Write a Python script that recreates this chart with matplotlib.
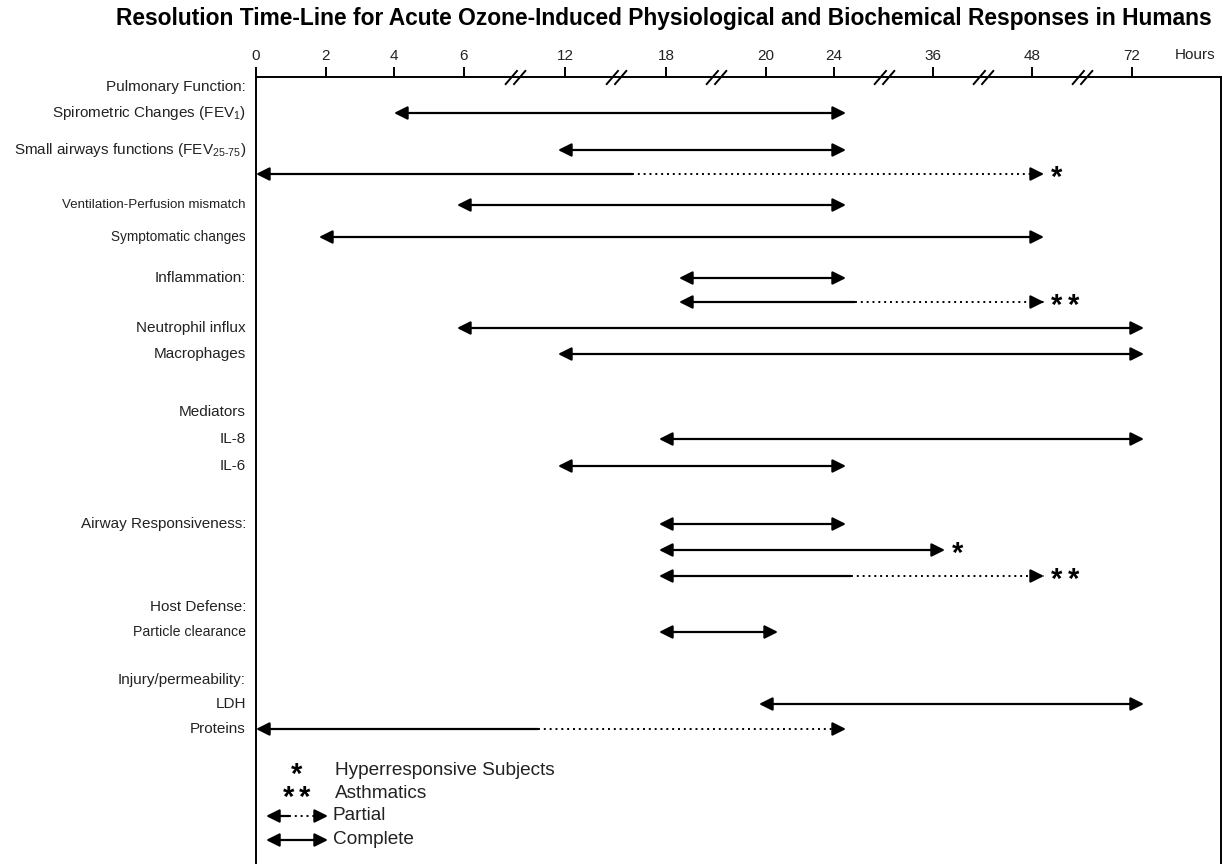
"""
Resolution time-line for acute ozone-induced responses (broken hour axis)
"""

import numpy as np
import matplotlib.pyplot as plt
from matplotlib.path import Path
from matplotlib import transforms

plt.rcParams['font.family'] = ['Liberation Sans', 'DejaVu Sans']
plt.rcParams['mathtext.fontset'] = 'custom'
plt.rcParams['mathtext.rm'] = 'Liberation Sans'

# hour axis
tick_hours = [0, 2, 4, 6, 12, 18, 20, 24, 36, 48, 72]
break_hours = [9, 15, 19, 30, 42, 60]

# row captions
row_labels = ['Pulmonary Function:', 'Spirometric Changes (FEV$_1$)',
              'Small airways functions (FEV$_{25\\text{-}75}$)',
              'Ventilation-Perfusion mismatch', 'Symptomatic changes',
              'Inflammation:', 'Neutrophil influx', 'Macrophages',
              'Mediators', 'IL-8', 'IL-6', 'Airway Responsiveness:',
              'Host Defense:', 'Particle clearance', 'Injury/permeability:',
              'LDH', 'Proteins']

# resolution spans (hours): start, end of complete part, end of span
span_start = [4, 12, 0, 6, 2, 18.4, 18.4, 6, 12, 18, 12, 18, 18, 18, 18, 20, 0]
span_solid_end = [24, 24, 16, 24, 48, 24, 26.5, 72, 72, 72, 24, 24, 36, 26, 20, 72, 10.4]
span_end = [24, 24, 48, 24, 48, 24, 48, 72, 72, 72, 24, 24, 36, 48, 20, 72, 24]
span_note = ['', '', '*', '', '', '', '**', '', '', '', '', '', '*', '**', '', '', '']

legend_notes = ['*', '**']
legend_texts = ['Hyperresponsive Subjects', 'Asthmatics', 'Partial', 'Complete']

# layout (pixel rows, top = 0)
tick_pos = [256, 326, 394, 464, 565, 666, 766, 834, 933, 1032, 1132]
label_y = [87, 113, 150, 205, 237, 278, 328, 354, 412, 439, 466, 524, 607, 632, 680, 704, 729]
label_size = [11, 11, 11, 9.6, 9.8, 11, 11, 11, 11, 11, 11, 11, 11, 10.2, 11, 11, 11]
span_y = [113, 150, 174, 205, 237, 278, 302, 328, 354, 439, 466, 524, 550, 576, 632, 704, 729]
legend_y = [771, 794, 816, 840]

knot_h = np.array([-24] + tick_hours + [96], dtype=float)
knot_p = np.array([256 - 24 * 35] + tick_pos + [1232], dtype=float)


def forward(h):
    return np.interp(h, knot_h, knot_p)


def inverse(p):
    return np.interp(p, knot_p, knot_h)


HEAD = '-|>,head_length=0.8,head_width=0.4'
HEAD2 = '<|-|>,head_length=0.8,head_width=0.4'
HEADL = '<|-,head_length=0.8,head_width=0.4'
LW = 1.6
DOTS = (0, (1, 2))


def draw_span(ax, x0, x1, x2, y, base, pad_l=0, pad_r=0):
    """arrow from x0 to x2, solid up to x1, dotted after"""
    left = transforms.offset_copy(base, fig=ax.figure, x=-pad_l, units='dots')
    right = transforms.offset_copy(base, fig=ax.figure, x=pad_r, units='dots')
    kw = dict(arrowstyle=HEAD2, lw=LW, color='black', shrinkA=0, shrinkB=0,
              mutation_scale=10)
    if x1 >= x2:
        ax.annotate('', xy=(x2, y), xytext=(x0, y), xycoords=right, textcoords=left,
                    arrowprops=kw)
        return
    kw['arrowstyle'] = HEADL
    ax.annotate('', xy=(x1, y), xytext=(x0, y), xycoords=base, textcoords=left,
                arrowprops=kw)
    x_tip = right.transform((x2, y))[0]
    x_end = base.inverted().transform((x_tip, 0))[0]
    ax.plot([x1, x_end], [y, y], color='black', lw=1.4, ls=DOTS, transform=base,
            solid_capstyle='butt')
    kw['arrowstyle'] = HEAD
    ax.annotate('', xy=(x2, y), xytext=(-8, 0), xycoords=right,
                textcoords='offset points', arrowprops=kw)


fig = plt.figure(figsize=(12.31, 8.64), dpi=100)
ax = fig.add_axes([256 / 1231, 0, 965 / 1231, (864 - 77) / 864])
ax.set_xscale('function', functions=(forward, inverse))
ax.set_xlim(0, inverse(1221))
ax.set_ylim(864, 77)

for side in ['left', 'top', 'right']:
    ax.spines[side].set_linewidth(1.4)
ax.spines['bottom'].set_visible(False)

ax.xaxis.tick_top()
ax.set_xticks(tick_hours)
ax.set_xticklabels([str(h) for h in tick_hours])
ax.tick_params(axis='x', direction='out', length=7, width=1.4, pad=3,
               labelsize=11, labelcolor='#222222')
ax.yaxis.set_visible(False)

lab = transforms.blended_transform_factory(ax.transAxes, ax.transData)
ax.text(0.973, 55, 'Hours', transform=lab, ha='center', va='center',
        fontsize=11, color='#222222', clip_on=False)

# axis breaks "//"
slash = Path([(-0.5, -0.35), (0.1, 0.35), (-0.1, -0.35), (0.5, 0.35)],
             [Path.MOVETO, Path.LINETO, Path.MOVETO, Path.LINETO])
ax.plot(break_hours, [77] * len(break_hours), ls='none', marker=slash,
        markersize=15, markeredgewidth=1.4, color='black', clip_on=False)

for text, y, fs in zip(row_labels, label_y, label_size):
    ax.text(-0.0104, y, text, transform=lab, ha='right', va='center',
            fontsize=fs, color='#222222')

for x0, x1, x2, note, y in zip(span_start, span_solid_end, span_end, span_note, span_y):
    draw_span(ax, x0, x1, x2, y, ax.transData,
              pad_l=0 if x0 in (0, 4) else 7, pad_r=12)
    for i, c in enumerate(note):
        ax.annotate(c, xy=(x2, y), xycoords=transforms.offset_copy(
                    ax.transData, fig=fig, x=12, units='dots'),
                    xytext=(5 + i * 12, -3), textcoords='offset points',
                    ha='left', va='center', fontsize=21, fontweight='bold')

# legend
for k, (note, y) in enumerate(zip(legend_notes, legend_y[:2])):
    n = len(note)
    for i, c in enumerate(note):
        ax.annotate(c, xy=(0.042, y), xycoords=lab,
                    xytext=((i - (n - 1) / 2) * 12, -3), textcoords='offset points',
                    ha='center', va='center', fontsize=21, fontweight='bold')
for text, y in zip(legend_texts[:2], legend_y[:2]):
    ax.text(0.0815, y, text, transform=lab, ha='left', va='center',
            fontsize=13.7, color='#222222')
draw_span(ax, 0.0104, 0.034, 0.0746, legend_y[2], lab)
draw_span(ax, 0.0104, 0.0746, 0.0746, legend_y[3], lab)
for text, y in zip(legend_texts[2:], legend_y[2:]):
    ax.text(0.0795, y, text, transform=lab, ha='left', va='center',
            fontsize=13.7, color='#222222')

fig.text(0.5394, 1 - 18 / 864, 'Resolution Time-Line for Acute Ozone-Induced '
         'Physiological and Biochemical Responses in Humans',
         ha='center', va='center', fontsize=16.4, fontweight='bold')

fig.savefig('out.png', dpi=100)
